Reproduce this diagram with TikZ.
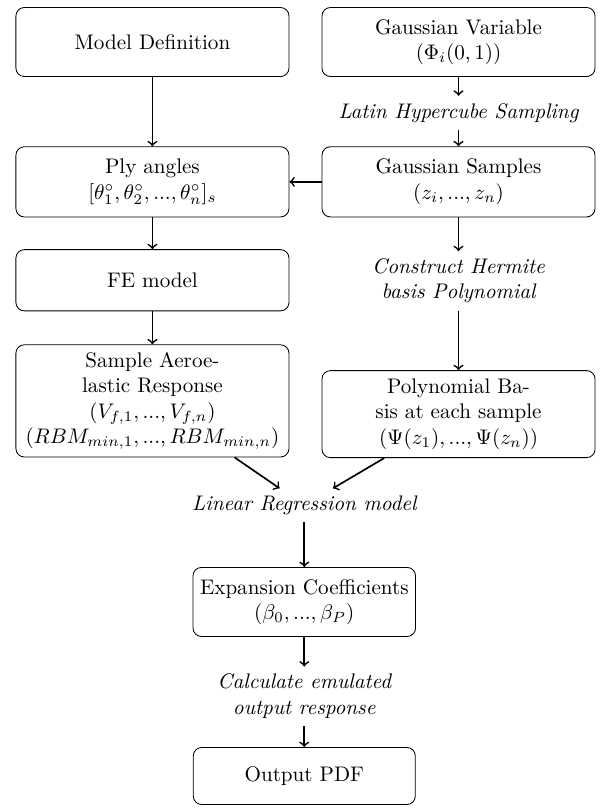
\documentclass[tikz,border=0pt]{standalone}
\begin{document}
\begin{tikzpicture}[box/.style={draw,rounded corners,align=center,minimum width=4.55cm,minimum height=1.15cm},
  sbox/.style={box,minimum width=3.7cm},lbl/.style={font=\itshape,align=center},arr/.style={->,thick}]
\useasboundingbox (0,0) rectangle (10,-13.48);
% left column
\node[box] (model) at (2.54,-0.7) {Model Definition};
\node[box,minimum height=1.17cm] (ply) at (2.54,-3.03) {Ply angles\\$[\theta_1^\circ,\theta_2^\circ,...,\theta_n^\circ]_s$};
\node[box,minimum height=1.02cm] (fe) at (2.54,-4.67) {FE model};
\node[box,minimum height=1.87cm] (sample) at (2.54,-6.68) {Sample Aeroe-\\lastic Response\\$(V_{f,1},...,V_{f,n})$\\$(RBM_{min,1},...,RBM_{min,n})$};
% right column
\node[box] (gvar) at (7.64,-0.7) {Gaussian Variable\\$(\Phi_i(0,1))$};
\node[lbl] (lhs) at (7.64,-1.88) {Latin Hypercube Sampling};
\node[box,minimum height=1.17cm] (gsamp) at (7.64,-3.03) {Gaussian Samples\\$(z_i,...,z_n)$};
\node[lbl] (herm) at (7.64,-4.68) {Construct Hermite\\basis Polynomial};
\node[box,minimum height=1.45cm] (poly) at (7.64,-6.9) {Polynomial Ba-\\sis at each sample\\$(\Psi(z_1),...,\Psi(z_n))$};
% bottom
\node[lbl] (linreg) at (5.07,-8.42) {Linear Regression model};
\node[sbox] (coef) at (5.07,-10.03) {Expansion Coefficients\\$(\beta_0,...,\beta_P)$};
\node[lbl] (calc) at (5.07,-11.6) {Calculate emulated\\output response};
\node[sbox,minimum height=0.95cm] (out) at (5.07,-12.93) {Output PDF};
\draw[arr] (model)--(ply);\draw[arr] (ply)--(fe);\draw[arr] (fe)--(sample);
\draw[arr] (gvar)--(lhs);\draw[arr] (lhs)--(gsamp);\draw[arr] (gsamp)--(herm);\draw[arr] (herm)--(poly);
\draw[arr] (gsamp)--(ply);
\draw[arr] (sample)--(linreg);\draw[arr] (poly)--(linreg);
\draw[arr] (linreg)--(coef);\draw[arr] (coef)--(calc);\draw[arr] (calc)--(out);
\end{tikzpicture}
\end{document}
